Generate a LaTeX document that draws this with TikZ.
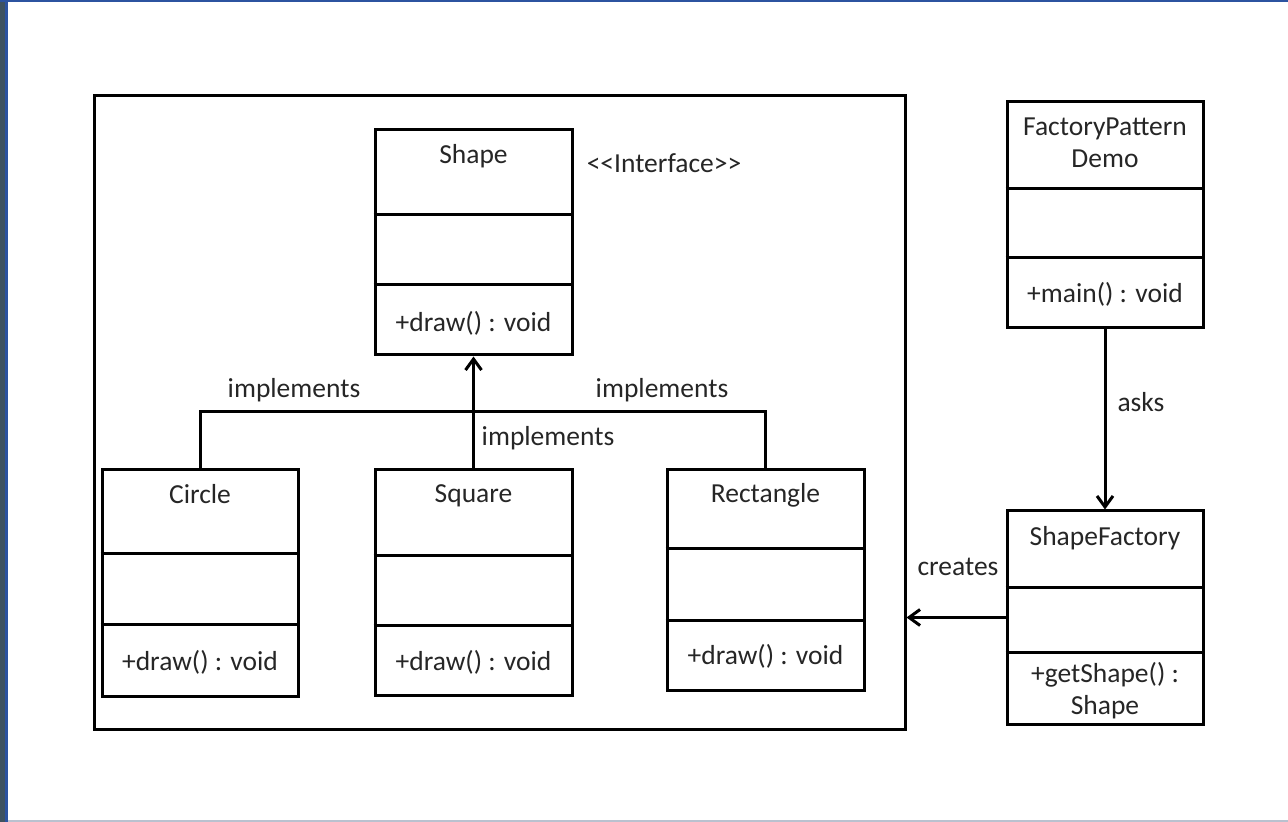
\documentclass[tikz,border=0pt]{standalone}
\usepackage{fontspec}
\setmainfont{Carlito}
\usetikzlibrary{arrows.meta}
\definecolor{ink}{HTML}{262626}
\definecolor{frameslate}{HTML}{3E5260}
\definecolor{frameblue}{HTML}{2C53A0}
\definecolor{framegrey}{HTML}{B9C1CF}
\tikzset{
  classbox/.style={draw=black, line width=1.5pt, inner sep=0pt, fill=white},
  lbl/.style={text=ink, inner sep=0pt, font=\fontsize{13.75}{16}\selectfont, align=center},
  link/.style={draw=black, line width=1.5pt},
  tip/.style={-{Straight Barb[length=5.5pt,width=8pt]}},
}
\begin{document}
\begin{tikzpicture}[x=0.5pt,y=-0.5pt]
  \useasboundingbox (0,0) rectangle (1288,822);
  % page frame
  \fill[white] (0,0) rectangle (1288,822);
  \fill[frameslate] (0,0) rectangle (5,822);
  \fill[frameblue] (5,0) rectangle (7.5,822);
  \fill[frameblue] (0,0) rectangle (1288,2);
  \fill[framegrey] (7.5,819.5) rectangle (1288,822);

  % package frame around the shapes
  \node[classbox, fill=none, minimum width=405.5pt, minimum height=316.5pt] (pkg) at (499.5,412.5) {};

  % interface Shape
  \node[classbox, minimum width=98.5pt, minimum height=112.5pt] (shape) at (473.5,242.5) {};
  \draw[link] (shape.west |- 0,215) -- (shape.east |- 0,215);
  \draw[link] (shape.west |- 0,285) -- (shape.east |- 0,285);
  \node[lbl] (shape-name) at (473.5,156) {Shape};
  \node[lbl] (shape-op) at (473.5,323) {+draw() : void};
  \node[lbl] (shape-stereo) at (664,163) {<{}<Interface>{}>};

  % Circle
  \node[classbox, minimum width=98pt, minimum height=113pt] (circle) at (200,583) {};
  \draw[link] (circle.west |- 0,553) -- (circle.east |- 0,553);
  \draw[link] (circle.west |- 0,624) -- (circle.east |- 0,624);
  \node[lbl] (circle-name) at (200,494) {Circle};
  \node[lbl] (circle-op) at (200,662) {+draw() : void};

  % Square
  \node[classbox, minimum width=98.5pt, minimum height=112.5pt] (square) at (473.5,582.5) {};
  \draw[link] (square.west |- 0,555) -- (square.east |- 0,555);
  \draw[link] (square.west |- 0,625) -- (square.east |- 0,625);
  \node[lbl] (square-name) at (473.5,496) {Square};
  \node[lbl] (square-op) at (473.5,662) {+draw() : void};

  % Rectangle
  \node[classbox, minimum width=98.5pt, minimum height=110pt] (rect) at (765.5,580) {};
  \draw[link] (rect.west |- 0,548) -- (rect.east |- 0,548);
  \draw[link] (rect.west |- 0,620) -- (rect.east |- 0,620);
  \node[lbl] (rect-name) at (765.5,495) {Rectangle};
  \node[lbl] (rect-op) at (765.5,656) {+draw() : void};

  % FactoryPatternDemo
  \node[classbox, minimum width=98pt, minimum height=113pt] (demo) at (1105,215) {};
  \draw[link] (demo.west |- 0,189) -- (demo.east |- 0,189);
  \draw[link] (demo.west |- 0,258) -- (demo.east |- 0,258);
  \node[lbl] (demo-name) at (1105,143) {FactoryPattern\\Demo};
  \node[lbl] (demo-op) at (1105,294) {+main() : void};

  % ShapeFactory
  \node[classbox, minimum width=98pt, minimum height=106.5pt] (factory) at (1105,617.5) {};
  \draw[link] (factory.west |- 0,587) -- (factory.east |- 0,587);
  \draw[link] (factory.west |- 0,652) -- (factory.east |- 0,652);
  \node[lbl] (factory-name) at (1105,538) {ShapeFactory};
  \node[lbl] (factory-op) at (1105,691) {+getShape() :\\Shape};

  % realisation links
  \coordinate (joinL) at (200,412);
  \coordinate (joinR) at (765.5,412);
  \draw[link] (circle.north) -- (joinL) -- (joinR) -- (rect.north);
  \draw[link, tip] (square.north) -- (shape.south);
  \node[lbl] (impl-left) at (294,390) {implements};
  \node[lbl] (impl-right) at (662,390) {implements};
  \node[lbl] (impl-mid) at (548,438) {implements};

  % client links
  \draw[link, tip] (demo.south) -- (factory.north);
  \node[lbl] (asks) at (1141,402) {asks};
  \draw[link, tip] (factory.west) -- (pkg.east |- factory.west);
  \node[lbl] (creates) at (958,567) {creates};
\end{tikzpicture}
\end{document}
